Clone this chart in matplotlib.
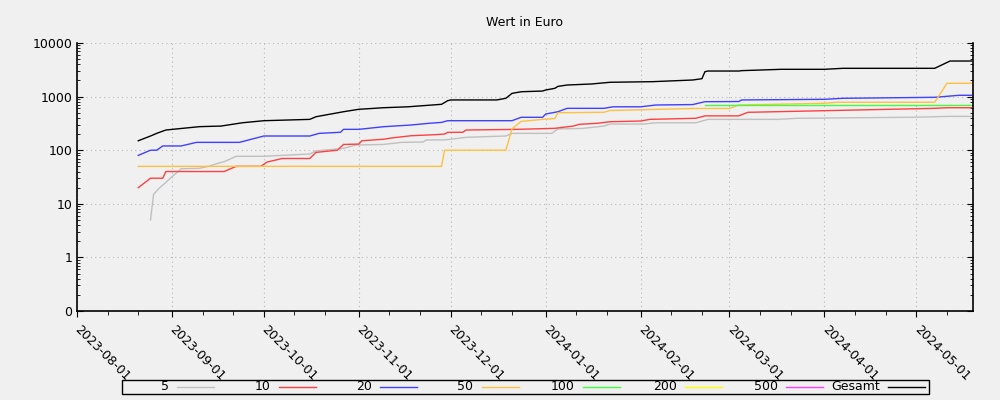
import matplotlib
matplotlib.use('Agg')
import matplotlib.pyplot as plt
import matplotlib.dates as mdates
from matplotlib.lines import Line2D
from matplotlib.patches import Rectangle
from matplotlib.ticker import FixedLocator, FixedFormatter, LogLocator, NullFormatter
import pandas as pd

# Datenpunkte
s5_dates = ['2023-08-25', '2023-08-26', '2023-08-28', '2023-08-30', '2023-09-01', '2023-09-04',
            '2023-09-10', '2023-09-13', '2023-09-16', '2023-09-18', '2023-09-22', '2023-10-01',
            '2023-10-16', '2023-10-18', '2023-10-27', '2023-10-31', '2023-11-09', '2023-11-15',
            '2023-11-22', '2023-11-23', '2023-11-29', '2023-12-01', '2023-12-06', '2023-12-19',
            '2023-12-21', '2024-01-03', '2024-01-05', '2024-01-13', '2024-01-20', '2024-01-22',
            '2024-02-02', '2024-02-06', '2024-02-19', '2024-02-23', '2024-03-17', '2024-03-23',
            '2024-04-30', '2024-05-12', '2024-05-19']
s5_vals = [5, 15, 20, 25, 32, 45, 46, 50, 57, 61, 77, 77, 85, 97, 108, 125, 128, 140,
           142, 155, 156, 160, 174, 184, 206, 206, 249, 255, 282, 308, 308, 325, 325, 376,
           376, 394, 412, 428, 428]

s10_dates = ['2023-08-21', '2023-08-25', '2023-08-29', '2023-08-30', '2023-09-18', '2023-09-22',
             '2023-09-30', '2023-10-02', '2023-10-07', '2023-10-16', '2023-10-18', '2023-10-25',
             '2023-10-27', '2023-11-01', '2023-11-02', '2023-11-09', '2023-11-12', '2023-11-18',
             '2023-11-26', '2023-11-29', '2023-11-30', '2023-12-05', '2023-12-06', '2023-12-23',
             '2024-01-04', '2024-01-10', '2024-01-12', '2024-01-18', '2024-01-22', '2024-02-01',
             '2024-02-04', '2024-02-19', '2024-02-22', '2024-03-04', '2024-03-07', '2024-04-01',
             '2024-05-07', '2024-05-11', '2024-05-19']
s10_vals = [20, 30, 30, 40, 40, 50, 50, 60, 70, 70, 91, 100, 128, 130, 150, 160, 170, 186,
            195, 200, 215, 216, 238, 245, 256, 282, 304, 318, 340, 350, 376, 394, 437, 437,
            509, 546, 604, 620, 620]

s20_dates = ['2023-08-21', '2023-08-25', '2023-08-27', '2023-08-29', '2023-09-04', '2023-09-09',
             '2023-09-23', '2023-10-01', '2023-10-16', '2023-10-19', '2023-10-26', '2023-10-27',
             '2023-11-01', '2023-11-09', '2023-11-18', '2023-11-24', '2023-11-28', '2023-11-30',
             '2023-12-21', '2023-12-24', '2023-12-31', '2024-01-01', '2024-01-05', '2024-01-08',
             '2024-01-20', '2024-01-23', '2024-02-01', '2024-02-06', '2024-02-18', '2024-02-22',
             '2024-03-04', '2024-03-05', '2024-04-01', '2024-04-07', '2024-05-07', '2024-05-15',
             '2024-05-19']
s20_vals = [80, 100, 100, 120, 120, 140, 140, 184, 184, 206, 216, 245, 245, 274, 295, 318,
            330, 355, 355, 411, 411, 473, 522, 604, 604, 645, 645, 697, 710, 803, 810, 866,
            890, 930, 970, 1058, 1058]

s50_dates = ['2023-08-21', '2023-11-28', '2023-11-29', '2023-12-19', '2023-12-21', '2023-12-24',
             '2023-12-31', '2024-01-04', '2024-01-05', '2024-01-20', '2024-01-22', '2024-02-18',
             '2024-03-01', '2024-03-04', '2024-04-01', '2024-04-05', '2024-05-07', '2024-05-11',
             '2024-05-19']
s50_vals = [50, 50, 100, 100, 250, 345, 376, 390, 500, 510, 550, 600, 600, 697, 750, 783,
            783, 1770, 1770]

s100_dates = ['2024-02-22', '2024-05-19']
s100_vals = [683, 683]

s200_dates = []
s200_vals = []
s500_dates = []
s500_vals = []

total_dates = ['2023-08-21', '2023-08-25', '2023-08-27', '2023-08-30', '2023-09-10', '2023-09-17',
               '2023-09-24', '2023-10-01', '2023-10-16', '2023-10-18', '2023-10-27', '2023-11-01',
               '2023-11-04', '2023-11-09', '2023-11-17', '2023-11-28', '2023-11-30', '2023-12-01',
               '2023-12-16', '2023-12-19', '2023-12-21', '2023-12-24', '2023-12-31', '2024-01-01',
               '2024-01-04', '2024-01-05', '2024-01-08', '2024-01-16', '2024-01-22', '2024-02-05',
               '2024-02-18', '2024-02-21', '2024-02-22', '2024-02-23', '2024-03-04', '2024-03-05',
               '2024-03-18', '2024-04-01', '2024-04-07', '2024-05-07', '2024-05-12', '2024-05-19']
total_vals = [150, 184, 206, 238, 275, 282, 325, 355, 376, 421, 522, 580, 594, 620, 645, 718,
              838, 866, 866, 929, 1148, 1232, 1270, 1327, 1428, 1550, 1645, 1720, 1850, 1900,
              2040, 2158, 2920, 3000, 3000, 3050, 3230, 3230, 3370, 3370, 4610, 4610]

labels = ['5', '10', '20', '50', '100', '200', '500', 'Gesamt']
colors = ['#c0c0c0', '#ff4040', '#4040ff', '#ffc040', '#40ff40', '#ffff00', '#ff40ff', '#000000']
series = [(s5_dates, s5_vals), (s10_dates, s10_vals), (s20_dates, s20_vals),
          (s50_dates, s50_vals), (s100_dates, s100_vals), (s200_dates, s200_vals),
          (s500_dates, s500_vals), (total_dates, total_vals)]

y_ticks = [0.1, 1, 10, 100, 1000, 10000]
y_ticklabels = ['0', '1', '10', '100', '1000', '10000']

bg = '#f0f0f0'
plt.rcParams['font.family'] = 'DejaVu Sans'
plt.rcParams['font.size'] = 9

fig = plt.figure(figsize=(10, 4), dpi=100, facecolor=bg)
ax = fig.add_axes([0.077, 0.2225, 0.896, 0.67])
ax.set_facecolor(bg)

for (d, v), c in zip(series, colors):
    if d:
        ax.plot(pd.to_datetime(d), v, color=c, lw=1.0)

ax.set_yscale('log')
ax.set_ylim(0.1, 10000)
ax.yaxis.set_major_locator(FixedLocator(y_ticks))
ax.yaxis.set_major_formatter(FixedFormatter(y_ticklabels))
ax.yaxis.set_minor_locator(LogLocator(base=10, subs=range(2, 10), numticks=20))
ax.yaxis.set_minor_formatter(NullFormatter())

ax.set_xlim(pd.Timestamp('2023-08-01'), pd.Timestamp('2024-05-19 12:00'))
ax.xaxis.set_major_locator(mdates.MonthLocator())
ax.xaxis.set_major_formatter(mdates.DateFormatter('%Y-%m-%d'))
ax.xaxis.set_minor_locator(mdates.DayLocator(bymonthday=[11, 21]))
for lbl in ax.get_xticklabels():
    lbl.set_rotation(-45)
    lbl.set_ha('left')
    lbl.set_va('center')
    lbl.set_rotation_mode('anchor')

ax.spines['top'].set_visible(False)
for sp in ['left', 'right', 'bottom']:
    ax.spines[sp].set_linewidth(1.2)
ax.tick_params(axis='y', which='both', left=True, right=True, direction='in', labelsize=9)
ax.tick_params(axis='y', which='major', length=4)
ax.tick_params(axis='y', which='minor', length=2)
ax.tick_params(axis='x', which='major', direction='out', length=4, labelsize=9, pad=8)
ax.tick_params(axis='x', which='minor', direction='out', length=3)

ax.grid(True, which='major', color='#b8b8b8', linestyle=(0, (1, 3)), lw=0.8)

fig.text(0.525, 1 - 22 / 400, 'Wert in Euro', ha='center', va='center', fontsize=9)

# Legende unten: Text rechtsbuendig vor der Linie
fig.patches.append(Rectangle((0.122, 6 / 400), 0.807, 14 / 400, transform=fig.transFigure,
                             facecolor=bg, edgecolor='black', lw=1.0))
leg_y = 1 - 387 / 400
for i, (lab, c) in enumerate(zip(labels, colors)):
    x0 = (177 + i * 101.5) / 1000
    fig.text(x0 - 0.008, leg_y, lab, ha='right', va='center', fontsize=9)
    fig.add_artist(Line2D([x0, x0 + 0.037], [leg_y, leg_y], color=c, lw=1.0,
                          transform=fig.transFigure))

plt.savefig('out.png', dpi=100, facecolor=bg)
